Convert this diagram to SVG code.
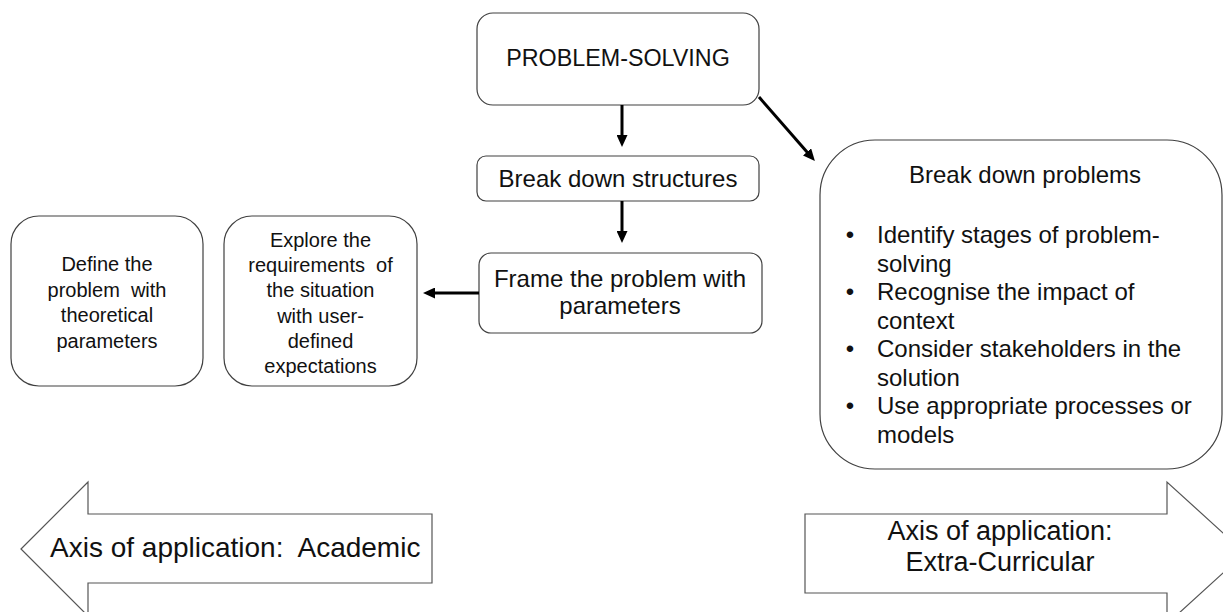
<svg xmlns="http://www.w3.org/2000/svg" width="1223" height="612" viewBox="0 0 1223 612">
<style>
.box{fill:#fff;stroke:#404040;stroke-width:1.2}
.big{fill:#fff;stroke:#555;stroke-width:1.2}
.t{font-family:"Liberation Sans",Arial,sans-serif;fill:#111;white-space:pre}
.c{text-anchor:middle}
.conn{stroke:#000;stroke-width:3;fill:none}
</style>
<defs>
<marker id="ah" markerWidth="12" markerHeight="11" refX="7" refY="5.5" orient="auto" markerUnits="userSpaceOnUse" viewBox="0 0 12 11">
<path d="M0,0 L12,5.5 L0,11 Z" fill="#000"/>
</marker>
</defs>
<rect width="1223" height="612" fill="#fff"/>
<g id="problem-solving">
<rect class="box" x="477" y="13" width="282" height="92" rx="16"/>
<text class="t c" x="618" y="66" font-size="23.3">PROBLEM-SOLVING</text>
</g>
<g id="break-structures">
<rect class="box" x="477" y="156" width="282" height="45" rx="9"/>
<text class="t c" x="618" y="187" font-size="24">Break down structures</text>
</g>
<g id="frame">
<rect class="box" x="479" y="253" width="283" height="80" rx="12"/>
<text class="t c" x="620" y="287" font-size="24">Frame the problem with</text>
<text class="t c" x="620" y="314" font-size="24">parameters</text>
</g>
<g id="explore">
<rect class="box" x="224" y="216" width="193" height="170" rx="28"/>
<text class="t c" font-size="20" xml:space="preserve"><tspan x="320.5" y="247">Explore the</tspan><tspan x="320.5" y="272">requirements  of</tspan><tspan x="320.5" y="297">the situation</tspan><tspan x="320.5" y="323">with user-</tspan><tspan x="320.5" y="348">defined</tspan><tspan x="320.5" y="373">expectations</tspan></text>
</g>
<g id="define">
<rect class="box" x="11" y="216" width="192" height="170" rx="28"/>
<text class="t c" font-size="20" xml:space="preserve"><tspan x="107" y="271">Define the</tspan><tspan x="107" y="297">problem  with</tspan><tspan x="107" y="322">theoretical</tspan><tspan x="107" y="348">parameters</tspan></text>
</g>
<g id="break-problems">
<rect class="box" x="820" y="140" width="402" height="329" rx="55"/>
<text class="t c" x="1025" y="183" font-size="24">Break down problems</text>
<g class="t" font-size="24">
<text x="850" y="243" text-anchor="middle">•</text>
<text x="850" y="300" text-anchor="middle">•</text>
<text x="850" y="357" text-anchor="middle">•</text>
<text x="850" y="414" text-anchor="middle">•</text>
<text x="877" y="243">Identify stages of problem-</text>
<text x="877" y="271.5">solving</text>
<text x="877" y="300">Recognise the impact of</text>
<text x="877" y="328.5">context</text>
<text x="877" y="357">Consider stakeholders in the</text>
<text x="877" y="385.5">solution</text>
<text x="877" y="414">Use appropriate processes or</text>
<text x="877" y="442.5">models</text>
</g>
</g>
<g id="axis-academic">
<path class="big" d="M21,549 L88,482 L88,514 L432,514 L432,583 L88,583 L88,616 Z"/>
<text class="t" x="50" y="557" font-size="28" xml:space="preserve">Axis of application:  Academic</text>
</g>
<g id="axis-extra">
<path class="big" d="M805,514 L1167,514 L1167,482 L1245,553 L1167,624 L1167,593 L805,593 Z"/>
<text class="t c" x="1000" y="540" font-size="27">Axis of application:</text>
<text class="t c" x="1000" y="571" font-size="27">Extra-Curricular</text>
</g>
<g id="connectors">
<line class="conn" x1="622" y1="105" x2="622" y2="142" marker-end="url(#ah)"/>
<line class="conn" x1="622" y1="201" x2="622" y2="238" marker-end="url(#ah)"/>
<line class="conn" x1="479" y1="293" x2="428" y2="293" marker-end="url(#ah)"/>
<line class="conn" x1="759" y1="97" x2="811.6" y2="157.2" marker-end="url(#ah)"/>
</g>
</svg>
